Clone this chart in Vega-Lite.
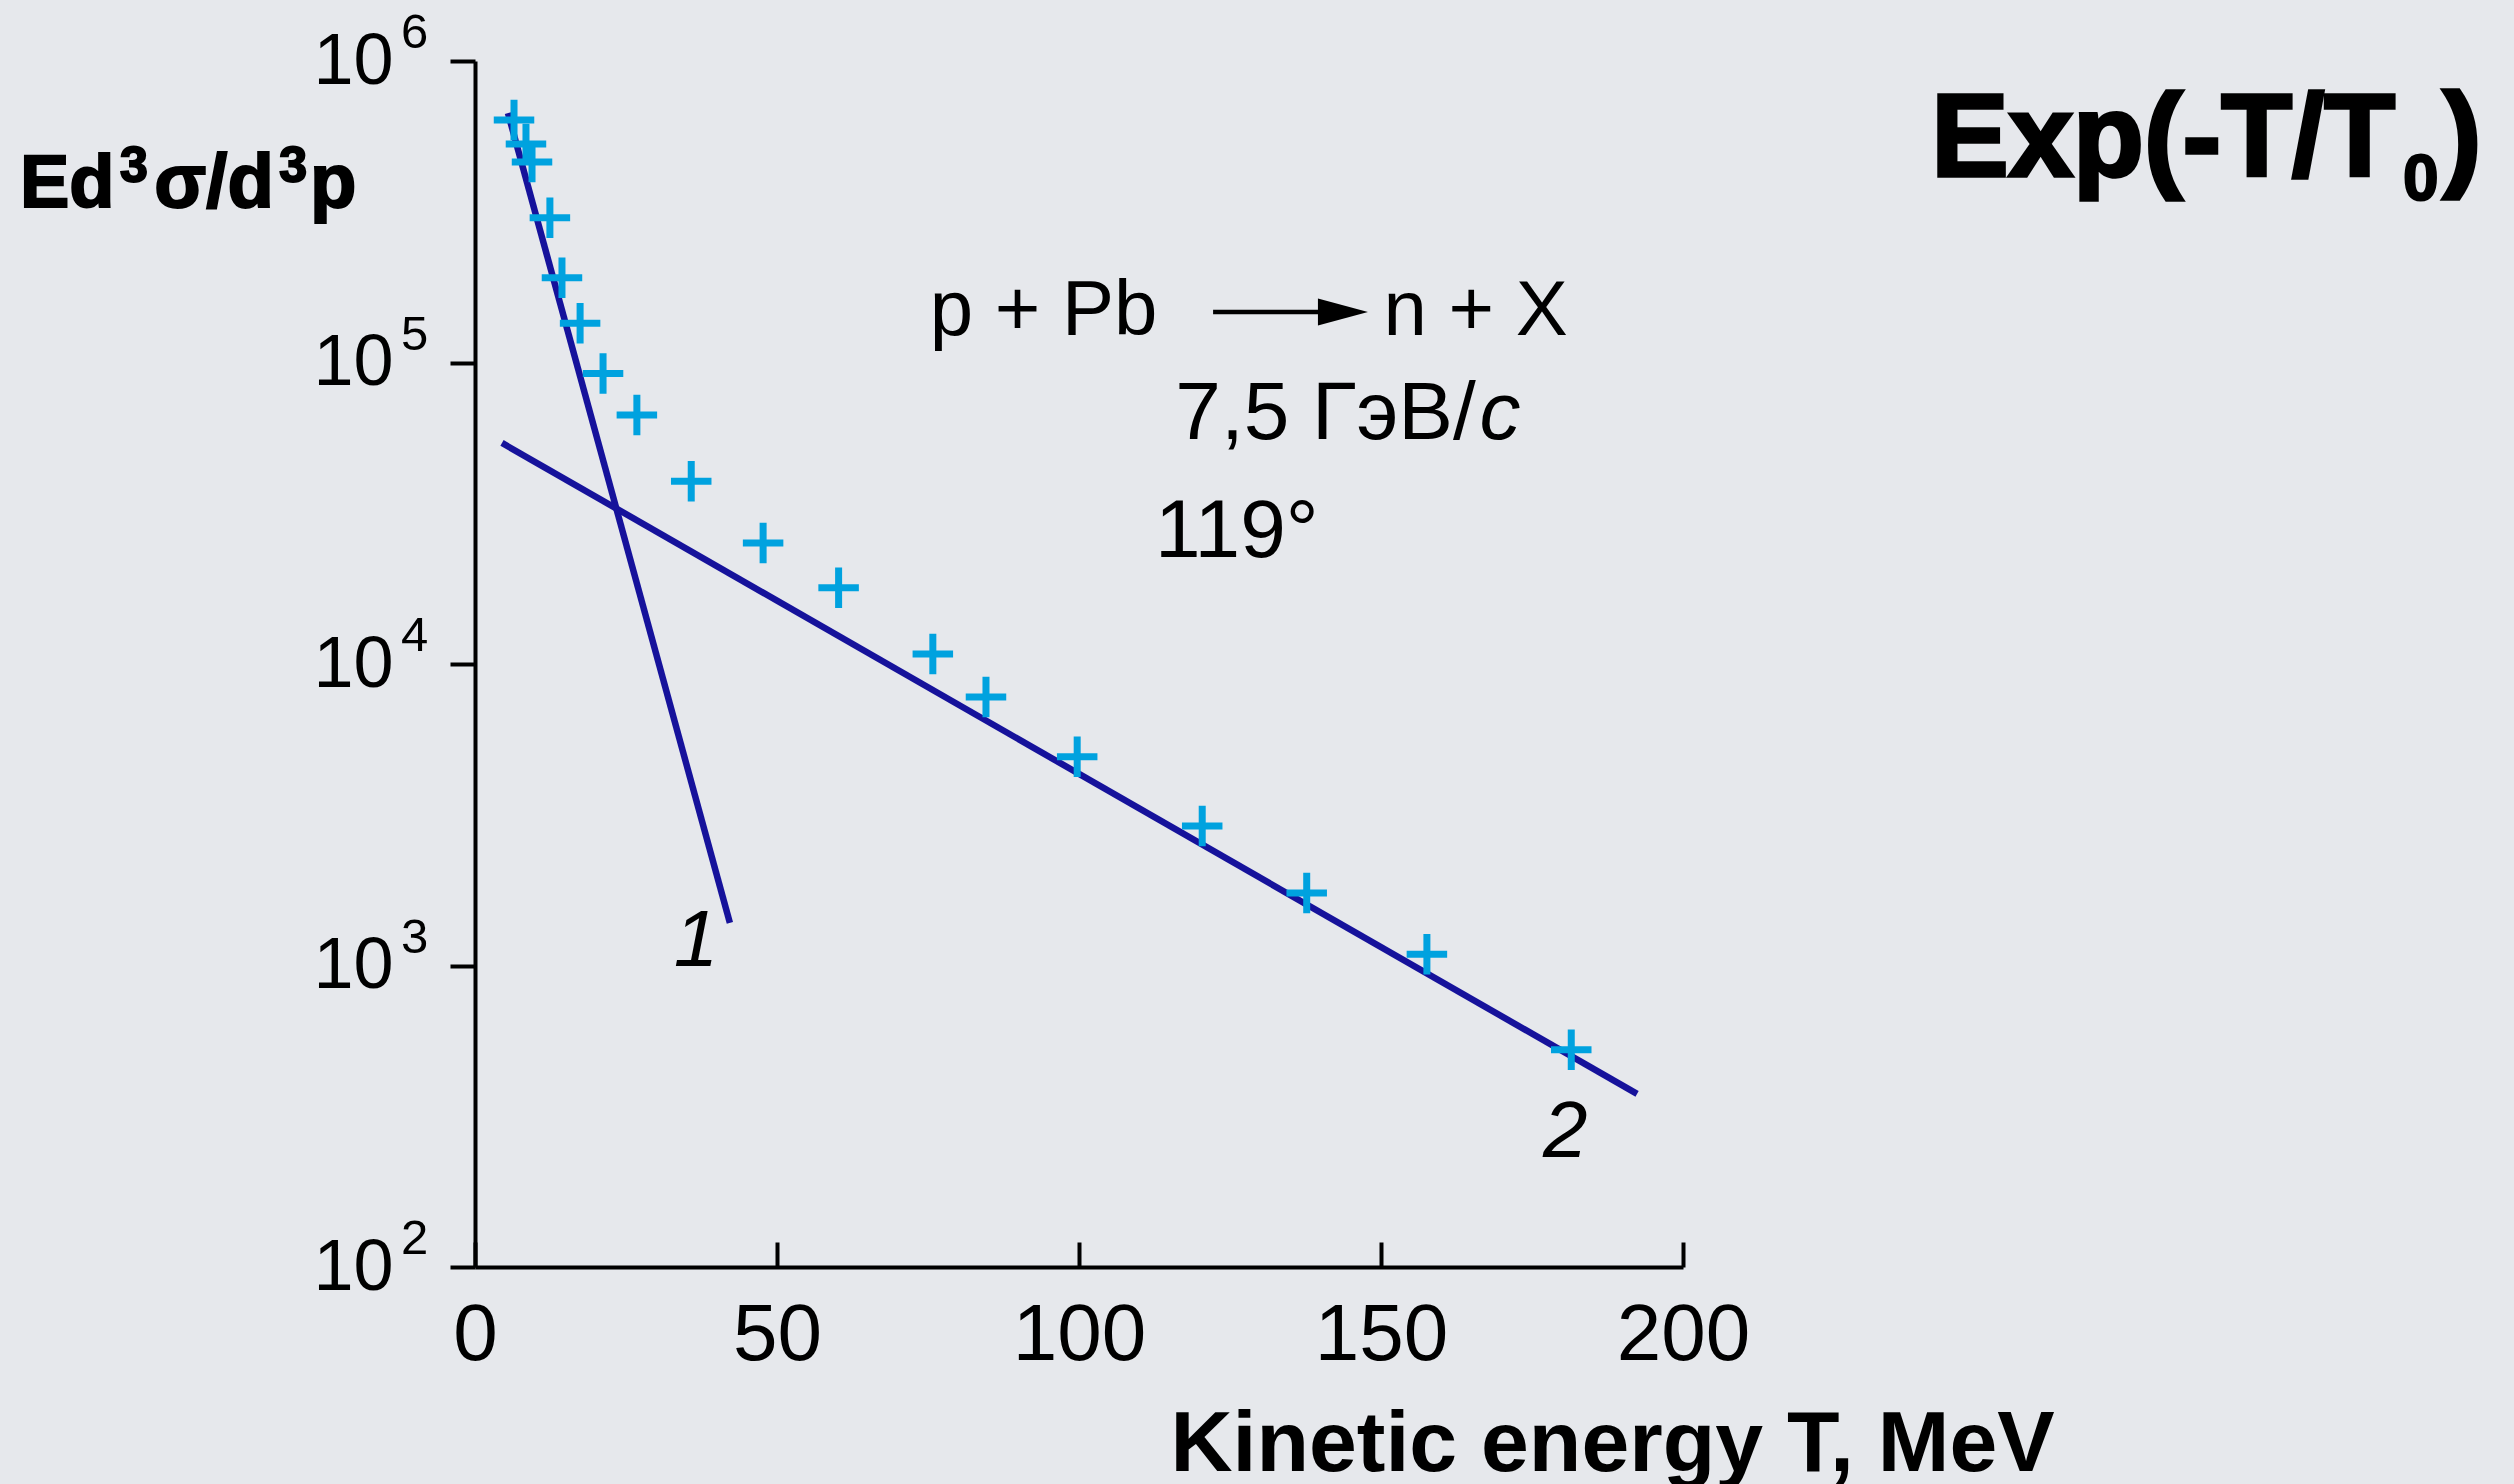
{
  "$schema": "https://vega.github.io/schema/vega-lite/v6.json",
  "width": 1208,
  "height": 1206,
  "autosize": {"type": "none"},
  "padding": {"left": 475, "top": 61, "right": 831, "bottom": 217},
  "background": "#e6e8ec",
  "config": {"view": {"stroke": null}, "font": "Liberation Sans"},
  "datasets": {
    "points": [
      {"T": 6.46, "v": 637000},
      {"T": 8.44, "v": 531000},
      {"T": 9.44, "v": 462000},
      {"T": 12.4, "v": 302000},
      {"T": 14.4, "v": 191000},
      {"T": 17.4, "v": 135000},
      {"T": 21.2, "v": 92000},
      {"T": 26.8, "v": 67000},
      {"T": 35.8, "v": 40400},
      {"T": 47.7, "v": 25200},
      {"T": 60.2, "v": 17900},
      {"T": 75.8, "v": 10800},
      {"T": 84.6, "v": 7770},
      {"T": 99.7, "v": 4920},
      {"T": 120.4, "v": 2900},
      {"T": 137.7, "v": 1740},
      {"T": 157.6, "v": 1090},
      {"T": 181.5, "v": 525}
    ],
    "fits": [
      {"curve": "1", "T": 5.46, "v": 672000},
      {"curve": "1", "T": 42.2, "v": 1384},
      {"curve": "2", "T": 4.47, "v": 54100},
      {"curve": "2", "T": 192.4, "v": 375}
    ],
    "exponents": [
      {"v": 100, "e": "2"},
      {"v": 1000, "e": "3"},
      {"v": 10000, "e": "4"},
      {"v": 100000, "e": "5"},
      {"v": 1000000, "e": "6"}
    ]
  },
  "layer": [
    {
      "data": {"name": "fits"},
      "mark": {"type": "line", "color": "#16129b", "strokeWidth": 6.5},
      "encoding": {
        "x": {
          "field": "T", "type": "quantitative",
          "scale": {"domain": [0, 200], "nice": false, "zero": false},
          "axis": {
            "values": [0, 50, 100, 150, 200],
            "grid": false,
            "title": "Kinetic energy T, MeV",
            "titleFont": "Liberation Sans",
            "titleFontSize": 86,
            "titleFontWeight": "bold",
            "titleColor": "black",
            "titleX": 1137,
            "titleY": 203,
            "titleAlign": "center",
            "titleBaseline": "alphabetic",
            "labelFontSize": 80,
            "labelColor": "black",
            "labelPadding": 54,
            "labelFlush": false,
            "tickSize": -25,
            "tickWidth": 4,
            "tickColor": "black",
            "domainColor": "black",
            "domainWidth": 4
          }
        },
        "y": {
          "field": "v", "type": "quantitative",
          "scale": {"type": "log", "domain": [100, 1000000], "nice": false},
          "axis": {
            "values": [100, 1000, 10000, 100000, 1000000],
            "labelExpr": "'10'",
            "grid": false,
            "title": null,
            "labelFontSize": 72,
            "labelColor": "black",
            "labelPadding": 57,
            "tickSize": 25,
            "tickWidth": 4,
            "tickColor": "black",
            "domainColor": "black",
            "domainWidth": 4
          }
        },
        "detail": {"field": "curve"}
      }
    },
    {
      "data": {"name": "exponents"},
      "mark": {"type": "text", "fontSize": 49, "align": "left", "baseline": "alphabetic", "color": "black", "dy": -13},
      "encoding": {
        "x": {"datum": -12.25, "type": "quantitative", "scale": {"domain": [0, 200], "nice": false, "zero": false}},
        "y": {"field": "v", "type": "quantitative", "scale": {"type": "log", "domain": [100, 1000000], "nice": false}},
        "text": {"field": "e"}
      }
    },
    {
      "data": {"name": "points"},
      "mark": {"type": "point", "shape": "M-1,0H1M0,-1V1", "size": 1640, "filled": false, "stroke": "#00a2df", "strokeWidth": 7, "opacity": 1, "strokeCap": "butt"},
      "encoding": {
        "x": {"field": "T", "type": "quantitative", "scale": {"domain": [0, 200], "nice": false, "zero": false}},
        "y": {"field": "v", "type": "quantitative", "scale": {"type": "log", "domain": [100, 1000000], "nice": false}}
      }
    },
    {
      "data": {"values": [{}]},
      "mark": {"type": "rule", "color": "black", "strokeWidth": 4.5},
      "encoding": {
        "x": {"datum": 122.2, "type": "quantitative", "scale": {"domain": [0, 200], "nice": false, "zero": false}},
        "x2": {"datum": 141},
        "y": {"datum": 147000, "type": "quantitative", "scale": {"type": "log", "domain": [100, 1000000], "nice": false}}
      }
    },
    {
      "data": {"values": [{}]},
      "mark": {"type": "point", "shape": "M-1,-0.54L1,0L-1,0.54Z", "size": 2500, "filled": true, "color": "black", "opacity": 1},
      "encoding": {
        "x": {"datum": 143.7, "type": "quantitative", "scale": {"domain": [0, 200], "nice": false, "zero": false}},
        "y": {"datum": 147000, "type": "quantitative", "scale": {"type": "log", "domain": [100, 1000000], "nice": false}}
      }
    },
    {
      "data": {"values": [{}]},
      "mark": {"type": "text", "text": "p + Pb", "fontSize": 78, "align": "left", "baseline": "alphabetic", "color": "black"},
      "encoding": {
        "x": {"datum": 75.3, "type": "quantitative", "scale": {"domain": [0, 200], "nice": false, "zero": false}},
        "y": {"datum": 123300, "type": "quantitative", "scale": {"type": "log", "domain": [100, 1000000], "nice": false}}
      }
    },
    {
      "data": {"values": [{}]},
      "mark": {"type": "text", "text": "n + X", "fontSize": 78, "align": "left", "baseline": "alphabetic", "color": "black"},
      "encoding": {
        "x": {"datum": 150.4, "type": "quantitative", "scale": {"domain": [0, 200], "nice": false, "zero": false}},
        "y": {"datum": 123300, "type": "quantitative", "scale": {"type": "log", "domain": [100, 1000000], "nice": false}}
      }
    },
    {
      "data": {"values": [{}]},
      "mark": {"type": "text", "text": "7,5 ГэВ/", "fontSize": 82, "align": "right", "baseline": "alphabetic", "color": "black"},
      "encoding": {
        "x": {"datum": 165.7, "type": "quantitative", "scale": {"domain": [0, 200], "nice": false, "zero": false}},
        "y": {"datum": 55700, "type": "quantitative", "scale": {"type": "log", "domain": [100, 1000000], "nice": false}}
      }
    },
    {
      "data": {"values": [{}]},
      "mark": {"type": "text", "text": "c", "fontSize": 82, "fontStyle": "italic", "align": "left", "baseline": "alphabetic", "color": "black"},
      "encoding": {
        "x": {"datum": 166.3, "type": "quantitative", "scale": {"domain": [0, 200], "nice": false, "zero": false}},
        "y": {"datum": 55700, "type": "quantitative", "scale": {"type": "log", "domain": [100, 1000000], "nice": false}}
      }
    },
    {
      "data": {"values": [{}]},
      "mark": {"type": "text", "text": "119°", "fontSize": 82, "align": "left", "baseline": "alphabetic", "color": "black"},
      "encoding": {
        "x": {"datum": 112.6, "type": "quantitative", "scale": {"domain": [0, 200], "nice": false, "zero": false}},
        "y": {"datum": 22700, "type": "quantitative", "scale": {"type": "log", "domain": [100, 1000000], "nice": false}}
      }
    },
    {
      "data": {"values": [{}]},
      "mark": {"type": "text", "text": "1", "fontSize": 80, "fontStyle": "italic", "align": "center", "baseline": "alphabetic", "color": "black"},
      "encoding": {
        "x": {"datum": 36.6, "type": "quantitative", "scale": {"domain": [0, 200], "nice": false, "zero": false}},
        "y": {"datum": 995, "type": "quantitative", "scale": {"type": "log", "domain": [100, 1000000], "nice": false}}
      }
    },
    {
      "data": {"values": [{}]},
      "mark": {"type": "text", "text": "2", "fontSize": 80, "fontStyle": "italic", "align": "center", "baseline": "alphabetic", "color": "black"},
      "encoding": {
        "x": {"datum": 180.5, "type": "quantitative", "scale": {"domain": [0, 200], "nice": false, "zero": false}},
        "y": {"datum": 232, "type": "quantitative", "scale": {"type": "log", "domain": [100, 1000000], "nice": false}}
      }
    },
    {
      "data": {"values": [{}]},
      "mark": {"type": "text", "text": "Ed", "fontSize": 74, "fontWeight": "bold", "align": "left", "baseline": "alphabetic", "color": "black", "stroke": "black", "strokeWidth": 2},
      "encoding": {
        "x": {"datum": -75.33, "type": "quantitative", "scale": {"domain": [0, 200], "nice": false, "zero": false}},
        "y": {"datum": 328000, "type": "quantitative", "scale": {"type": "log", "domain": [100, 1000000], "nice": false}}
      }
    },
    {
      "data": {"values": [{}]},
      "mark": {"type": "text", "text": "3", "fontSize": 50, "fontWeight": "bold", "align": "left", "baseline": "alphabetic", "color": "black", "stroke": "black", "strokeWidth": 2},
      "encoding": {
        "x": {"datum": -58.77, "type": "quantitative", "scale": {"domain": [0, 200], "nice": false, "zero": false}},
        "y": {"datum": 396900, "type": "quantitative", "scale": {"type": "log", "domain": [100, 1000000], "nice": false}}
      }
    },
    {
      "data": {"values": [{}]},
      "mark": {"type": "text", "text": "σ/d", "fontSize": 76, "fontWeight": "bold", "align": "left", "baseline": "alphabetic", "color": "black", "stroke": "black", "strokeWidth": 2},
      "encoding": {
        "x": {"datum": -53.1, "type": "quantitative", "scale": {"domain": [0, 200], "nice": false, "zero": false}},
        "y": {"datum": 328000, "type": "quantitative", "scale": {"type": "log", "domain": [100, 1000000], "nice": false}}
      }
    },
    {
      "data": {"values": [{}]},
      "mark": {"type": "text", "text": "3", "fontSize": 50, "fontWeight": "bold", "align": "left", "baseline": "alphabetic", "color": "black", "stroke": "black", "strokeWidth": 2},
      "encoding": {
        "x": {"datum": -32.4, "type": "quantitative", "scale": {"domain": [0, 200], "nice": false, "zero": false}},
        "y": {"datum": 396900, "type": "quantitative", "scale": {"type": "log", "domain": [100, 1000000], "nice": false}}
      }
    },
    {
      "data": {"values": [{}]},
      "mark": {"type": "text", "text": "p", "fontSize": 76, "fontWeight": "bold", "align": "left", "baseline": "alphabetic", "color": "black", "stroke": "black", "strokeWidth": 2},
      "encoding": {
        "x": {"datum": -27.3, "type": "quantitative", "scale": {"domain": [0, 200], "nice": false, "zero": false}},
        "y": {"datum": 328000, "type": "quantitative", "scale": {"type": "log", "domain": [100, 1000000], "nice": false}}
      }
    },
    {
      "data": {"values": [{}]},
      "mark": {"type": "text", "text": "Exp(-T/T", "fontSize": 116, "fontWeight": "bold", "align": "right", "baseline": "alphabetic", "color": "black", "stroke": "black", "strokeWidth": 3.5},
      "encoding": {
        "x": {"datum": 317.9, "type": "quantitative", "scale": {"domain": [0, 200], "nice": false, "zero": false}},
        "y": {"datum": 416000, "type": "quantitative", "scale": {"type": "log", "domain": [100, 1000000], "nice": false}}
      }
    },
    {
      "data": {"values": [{}]},
      "mark": {"type": "text", "text": "0", "fontSize": 64, "fontWeight": "bold", "align": "left", "baseline": "alphabetic", "color": "black", "stroke": "black", "strokeWidth": 2},
      "encoding": {
        "x": {"datum": 319.2, "type": "quantitative", "scale": {"domain": [0, 200], "nice": false, "zero": false}},
        "y": {"datum": 346000, "type": "quantitative", "scale": {"type": "log", "domain": [100, 1000000], "nice": false}}
      }
    },
    {
      "data": {"values": [{}]},
      "mark": {"type": "text", "text": ")", "fontSize": 116, "fontWeight": "bold", "align": "left", "baseline": "alphabetic", "color": "black", "stroke": "black", "strokeWidth": 3.5},
      "encoding": {
        "x": {"datum": 325.8, "type": "quantitative", "scale": {"domain": [0, 200], "nice": false, "zero": false}},
        "y": {"datum": 419000, "type": "quantitative", "scale": {"type": "log", "domain": [100, 1000000], "nice": false}}
      }
    }
  ]
}
